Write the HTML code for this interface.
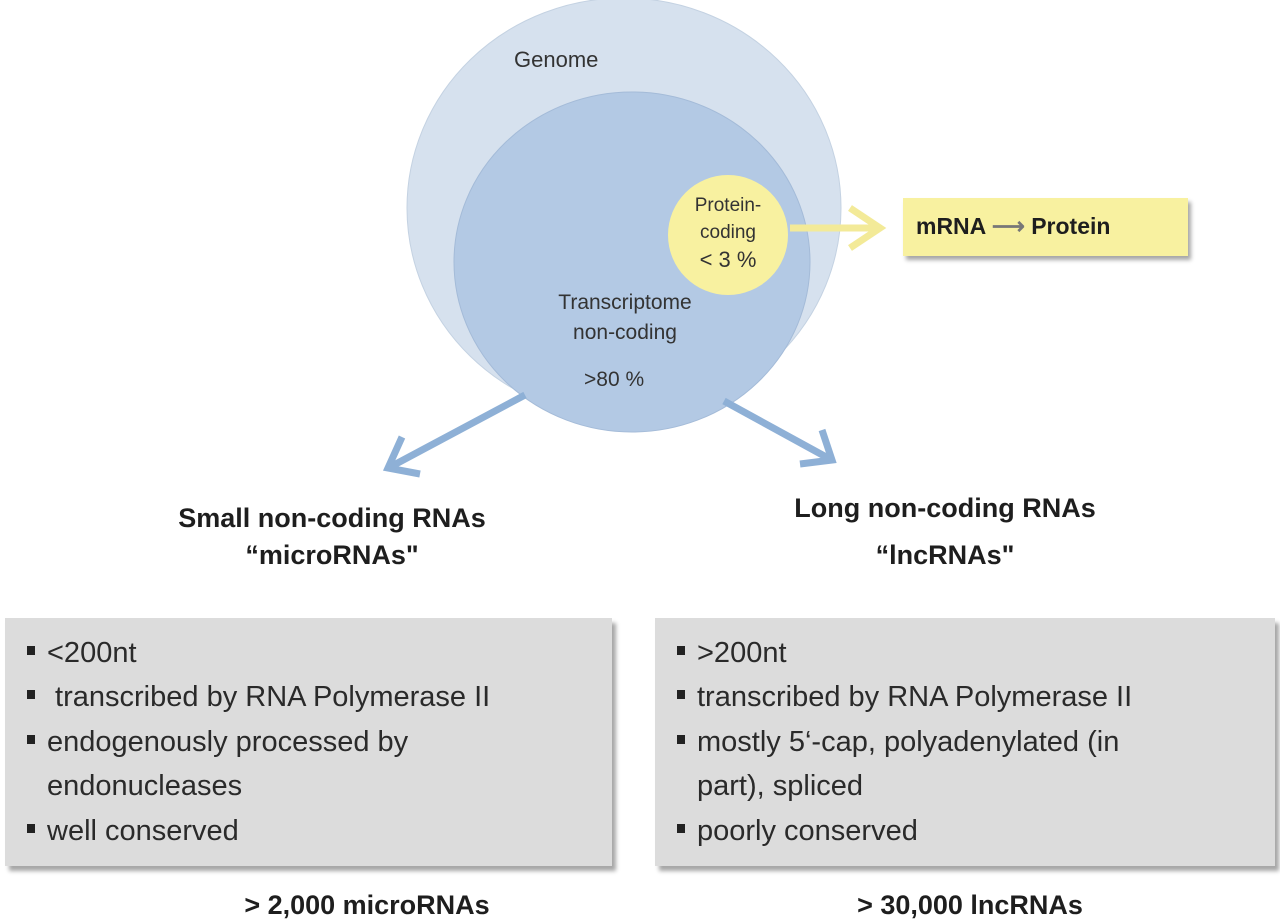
<!DOCTYPE html>
<html><head><meta charset="utf-8"><style>
body{margin:0;width:1280px;height:923px;background:#fff;position:relative;overflow:hidden;font-family:"Liberation Sans",sans-serif;color:#222}
.t{position:absolute;white-space:nowrap}
.box{position:absolute;background:#dcdcdc;box-shadow:4px 5px 4px rgba(0,0,0,0.35)}
.bl{position:absolute;left:0;font-size:29px;color:#2a2a2a;white-space:nowrap}
.sq{display:inline-block;width:8px;height:9px;background:#222;vertical-align:middle;margin-right:12px;position:relative;top:-4px}
.h{position:absolute;font-weight:bold;font-size:27px;text-align:center;width:500px;color:#1e1e1e}
</style></head><body>
<svg width="1280" height="923" style="position:absolute;left:0;top:0">
<ellipse cx="624" cy="208" rx="217" ry="210" fill="#d6e1ee" stroke="#c4d2e2"/>
<ellipse cx="632" cy="262" rx="178" ry="170" fill="#b3c9e4" stroke="#a4bbd8"/>
<line x1="790" y1="228" x2="878" y2="228" stroke="#f3ea98" stroke-width="7"/>
<polyline points="850,208 880,228 850,248" fill="none" stroke="#f3ea98" stroke-width="7"/>
<circle cx="728" cy="235" r="60" fill="#f8f1a0"/>
<line x1="525" y1="395" x2="392" y2="466" stroke="#8eb0d6" stroke-width="7"/>
<polyline points="402,437 388,468 420,474" fill="none" stroke="#8eb0d6" stroke-width="7"/>
<line x1="724" y1="401" x2="828" y2="458" stroke="#8eb0d6" stroke-width="7"/>
<polyline points="822,430 832,460 800,464" fill="none" stroke="#8eb0d6" stroke-width="7"/>
</svg>
<div class="t" style="left:514px;top:47px;font-size:22px;color:#333">Genome</div>
<div class="t" style="left:672px;top:192px;font-size:19px;color:#333;width:112px;text-align:center;line-height:27px">Protein-<br>coding<br><span style="font-size:22px">&lt; 3 %</span></div>
<div class="t" style="left:530px;top:288px;font-size:21px;color:#333;width:190px;text-align:center;line-height:30px">Transcriptome<br>non-coding</div>
<div class="t" style="left:584px;top:368px;font-size:21px;color:#333">&gt;80 %</div>
<div style="position:absolute;left:903px;top:198px;width:285px;height:58px;background:#f8f1a0;box-shadow:3px 4px 4px rgba(0,0,0,0.35)"></div>
<div class="t" style="left:916px;top:213px;font-size:23px;font-weight:bold;color:#1e1e1e">mRNA <span style="color:#777">&#10230;</span> Protein</div>
<div class="h" style="left:82px;top:503px">Small non-coding RNAs</div>
<div class="h" style="left:82px;top:540px">“microRNAs"</div>
<div class="h" style="left:695px;top:493px">Long non-coding RNAs</div>
<div class="h" style="left:695px;top:540px">“lncRNAs"</div>
<div class="box" style="left:5px;top:618px;width:607px;height:248px">
<div class="bl" style="left:22px;top:19px"><span class="sq"></span>&lt;200nt</div>
<div class="bl" style="left:22px;top:63px"><span class="sq"></span> transcribed by RNA Polymerase II</div>
<div class="bl" style="left:22px;top:108px"><span class="sq"></span>endogenously processed by</div>
<div class="bl" style="left:42px;top:152px">endonucleases</div>
<div class="bl" style="left:22px;top:197px"><span class="sq"></span>well conserved</div>
</div>
<div class="box" style="left:655px;top:618px;width:620px;height:248px">
<div class="bl" style="left:22px;top:19px"><span class="sq"></span>&gt;200nt</div>
<div class="bl" style="left:22px;top:63px"><span class="sq"></span>transcribed by RNA Polymerase II</div>
<div class="bl" style="left:22px;top:108px"><span class="sq"></span>mostly 5‘-cap, polyadenylated (in</div>
<div class="bl" style="left:42px;top:152px">part), spliced</div>
<div class="bl" style="left:22px;top:197px"><span class="sq"></span>poorly conserved</div>
</div>
<div class="h" style="left:117px;top:890px">&gt; 2,000 microRNAs</div>
<div class="h" style="left:720px;top:890px">&gt; 30,000 lncRNAs</div>
</body></html>
